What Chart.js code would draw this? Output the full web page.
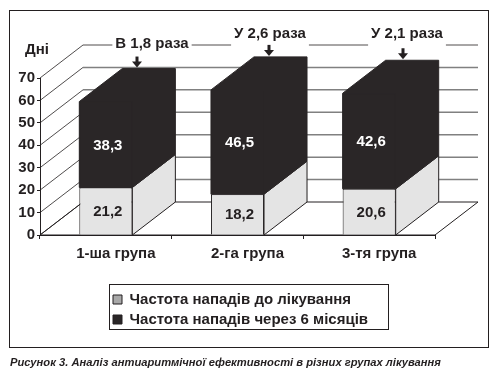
<!DOCTYPE html>
<html>
<head>
<meta charset="utf-8">
<script src="https://cdn.jsdelivr.net/npm/chart.js"></script>
<style>
    html, body { margin: 0; padding: 0; background: #fff; }
    canvas { display: block; }
</style>
</head>
<body>
<canvas id="chart" width="500" height="373"></canvas>
<script>
    const categories = ['1-ша група', '2-га група', '3-тя група'];
    const beforeValues = [21.2, 18.2, 20.6];
    const afterValues = [38.3, 46.5, 42.6];
    const ratioLabels = ['В 1,8 раза', 'У 2,6 раза', 'У 2,1 раза'];
    const seriesNames = ['Частота нападів до лікування', 'Частота нападів через 6 місяців'];
    const yTitle = 'Дні';
    const caption = 'Рисунок 3. Аналіз антиаритмічної ефективності в різних групах лікування';

    const INK = '#231f20';
    const DARK = '#2a2627';
    const LIGHT = '#e4e4e4';
    const SWATCH = '#a8a8a8';
    const GRID = '#808080';
    const FONT = '"Liberation Sans", Arial, sans-serif';
    // 3D depth of the plot
    const DX = 43;
    const DY = 33;

    function poly(ctx, pts, fill, stroke) {
        ctx.beginPath();
        pts.forEach((p, i) => i ? ctx.lineTo(p[0], p[1]) : ctx.moveTo(p[0], p[1]));
        ctx.closePath();
        if (fill) { ctx.fillStyle = fill; ctx.fill(); }
        if (stroke) { ctx.strokeStyle = stroke; ctx.lineWidth = 1; ctx.stroke(); }
    }

    function line(ctx, x1, y1, x2, y2, color, width) {
        ctx.beginPath();
        ctx.moveTo(x1, y1);
        ctx.lineTo(x2, y2);
        ctx.strokeStyle = color;
        ctx.lineWidth = width;
        ctx.stroke();
    }

    const depthPlugin = {
        id: 'depth',
        afterLayout(chart) {
            // move the legend under the plot
            const lg = chart.legend;
            const w = lg.width, h = lg.height;
            lg.left = 108; lg.top = 287;
            lg.right = lg.left + w; lg.bottom = lg.top + h;
        },
        beforeDatasetsDraw(chart) {
            const ctx = chart.ctx;
            const x = chart.scales.x, y = chart.scales.y;
            const l = x.left, r = x.right, b = y.getPixelForValue(0);
            ctx.save();

            // outer frame
            ctx.strokeStyle = INK;
            ctx.lineWidth = 1;
            ctx.strokeRect(9.5, 10.5, 479, 337);

            // back wall lines and left wall diagonals
            y.ticks.forEach(t => {
                const py = y.getPixelForValue(t.value);
                if (t.value > 0 && t.value < 70) line(ctx, l + DX, py - DY, r + DX, py - DY, GRID, 1.5);
                line(ctx, l, py, l + DX, py - DY, INK, 0.8);
            });
            const topY = y.getPixelForValue(70) - DY;
            line(ctx, l + DX, topY, r + DX, topY, INK, 0.8);

            // floor
            poly(ctx, [[l, b], [l + DX, b - DY], [r + DX, b - DY], [r, b]], null, INK);

            // side and top faces of the columns
            const m0 = chart.getDatasetMeta(0), m1 = chart.getDatasetMeta(1);
            categories.forEach((c, i) => {
                const low = m0.data[i], high = m1.data[i];
                const x1 = low.x - low.width / 2, x2 = low.x + low.width / 2;
                poly(ctx, [[x2, b], [x2 + DX, b - DY], [x2 + DX, low.y - DY], [x2, low.y]], LIGHT, INK);
                poly(ctx, [
                    [x1, low.y], [x1, high.y], [x1 + DX, high.y - DY], [x2 + DX, high.y - DY],
                    [x2 + DX, low.y - DY], [x2, low.y]
                ], DARK, DARK);
            });
            ctx.restore();
        },
        afterDraw(chart) {
            const ctx = chart.ctx;
            const m0 = chart.getDatasetMeta(0), m1 = chart.getDatasetMeta(1);
            ctx.save();
            ctx.textAlign = 'center';
            ctx.textBaseline = 'middle';
            ctx.font = 'bold 15px ' + FONT;

            // values on the columns
            categories.forEach((c, i) => {
                const low = m0.data[i], high = m1.data[i];
                ctx.fillStyle = INK;
                ctx.fillText(beforeValues[i].toFixed(1).replace('.', ','), low.x + 2, (low.y + low.base) / 2 + 1);
                ctx.fillStyle = '#fff';
                ctx.fillText(afterValues[i].toFixed(1).replace('.', ','), high.x + 2, (high.y + high.base) / 2 + 1);
            });

            // ratio labels with arrows
            const labelX = [152, 270, 407];
            const labelY = [44, 34, 34];
            const arrowX = [137, 269, 403];
            ratioLabels.forEach((txt, i) => {
                const w = ctx.measureText(txt).width;
                ctx.fillStyle = '#fff';
                ctx.fillRect(labelX[i] - w / 2 - 3, 38, w + 6, 12);
                ctx.fillStyle = INK;
                ctx.fillText(txt, labelX[i], labelY[i]);
                const tip = m1.data[i].y - DY - 1;
                ctx.fillRect(arrowX[i] - 1.5, tip - 11, 3, 6);
                poly(ctx, [[arrowX[i] - 5, tip - 6], [arrowX[i] + 5, tip - 6], [arrowX[i], tip]], INK);
            });

            ctx.fillStyle = INK;
            ctx.fillText(yTitle, 37, 50);

            // legend box
            ctx.strokeStyle = INK;
            ctx.lineWidth = 1;
            ctx.strokeRect(109.5, 284.5, 279, 45);

            // caption
            ctx.textAlign = 'left';
            ctx.font = 'italic bold 11.2px ' + FONT;
            ctx.fillText(caption, 10, 362.5);
            ctx.restore();
        }
    };

    new Chart(document.getElementById('chart'), {
        type: 'bar',
        data: {
            labels: categories,
            datasets: [
                { label: seriesNames[0], data: beforeValues, backgroundColor: LIGHT, borderColor: INK, borderWidth: 1 },
                { label: seriesNames[1], data: afterValues, backgroundColor: DARK, borderColor: DARK, borderWidth: 1 }
            ]
        },
        options: {
            responsive: false,
            animation: false,
            barPercentage: 0.403,
            categoryPercentage: 1,
            layout: { padding: { left: 0, right: 65, top: 78, bottom: 0 } },
            scales: {
                x: {
                    stacked: true,
                    afterFit(s) { s.height = 138; },
                    grid: { offset: true, drawOnChartArea: false, color: INK, tickLength: 4 },
                    border: { color: INK },
                    ticks: { color: INK, padding: 6, labelOffset: 10, maxRotation: 0, font: { family: FONT, size: 15, weight: 'bold' } }
                },
                y: {
                    stacked: true,
                    min: 0,
                    max: 70,
                    afterFit(s) { s.width = 40; },
                    grid: { drawOnChartArea: false, color: INK, tickLength: 3 },
                    border: { color: INK },
                    ticks: { stepSize: 10, color: INK, padding: 2, font: { family: FONT, size: 15, weight: 'bold' } }
                }
            },
            plugins: {
                tooltip: { enabled: false },
                legend: {
                    position: 'chartArea',
                    align: 'start',
                    labels: {
                        boxWidth: 9,
                        boxHeight: 9,
                        padding: 5,
                        color: INK,
                        font: { family: FONT, size: 15, weight: 'bold' },
                        generateLabels: chart => chart.data.datasets.map((d, i) => ({
                            text: d.label,
                            fillStyle: i === 0 ? SWATCH : DARK,
                            strokeStyle: INK,
                            lineWidth: 1,
                            fontColor: INK,
                            datasetIndex: i
                        }))
                    }
                }
            }
        },
        plugins: [depthPlugin]
    });
</script>
</body>
</html>
